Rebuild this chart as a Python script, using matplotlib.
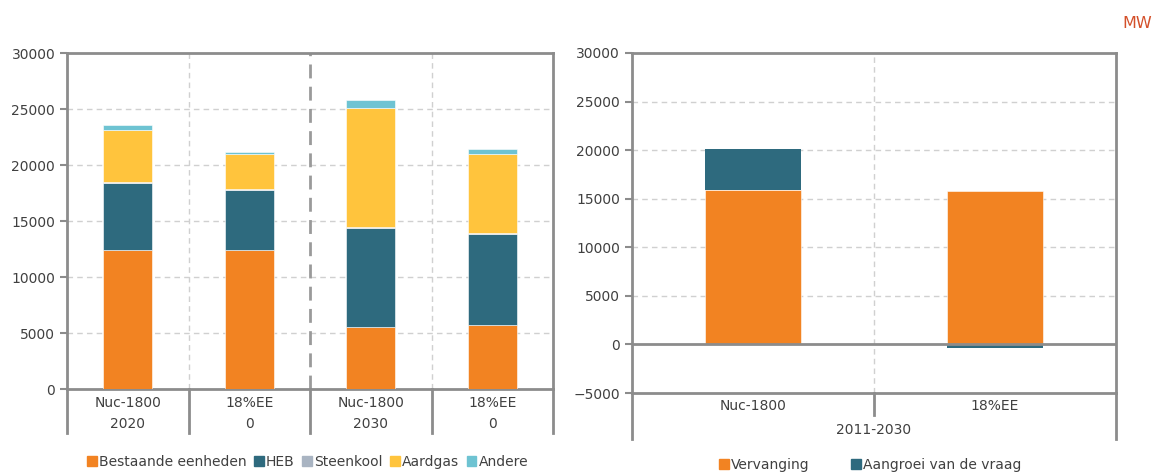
import matplotlib
matplotlib.use("Agg")
import matplotlib.pyplot as plt
from matplotlib.patches import Patch
import matplotlib.transforms as mtransforms

# ---------------- data ----------------
left_scen = ["Nuc-1800", "18%EE", "Nuc-1800", "18%EE"]
left_year = ["2020", "0", "2030", "0"]
bestaande = [12380, 12380, 5530, 5740]
heb = [6050, 5390, 8880, 8140]
steenkool = [80, 60, 60, 50]
aardgas = [4640, 3150, 10630, 7050]
andere = [450, 220, 700, 450]

right_scen = ["Nuc-1800", "18%EE"]
right_period = "2011-2030"
vervanging = [15870, 15770]
aangroei = [4260, -340]

left_series = ["Bestaande eenheden", "HEB", "Steenkool", "Aardgas", "Andere"]
right_series = ["Vervanging", "Aangroei van de vraag"]

C_OR = "#F28322"
C_HEB = "#2E6A7E"
C_ST = "#A9B4C2"
C_GAS = "#FFC43D"
C_AND = "#6EC3D2"
TXT = "#404040"
SP = "#8C8C8C"
GR = "#D0D0D0"

FS = 10
plt.rcParams["font.family"] = ["DejaVu Sans"]
plt.rcParams["font.size"] = FS

fig = plt.figure(figsize=(11.56, 4.75), dpi=100)

# ---------------- left chart ----------------
axL = fig.add_axes([0.058, 0.181, 0.4204, 0.7074])
xs = list(range(len(left_scen)))
w = 0.40
bottom = [0] * len(xs)
for vals, col in [(bestaande, C_OR), (heb, C_HEB), (steenkool, C_ST), (aardgas, C_GAS), (andere, C_AND)]:
    axL.bar(xs, vals, w, bottom=bottom, color=col, edgecolor="white", linewidth=0.4, zorder=3)
    bottom = [b + v for b, v in zip(bottom, vals)]
axL.set_xlim(-0.5, 3.5)
axL.set_ylim(0, 30000)
axL.set_yticks(range(0, 30001, 5000))
axL.set_xticks([])
for y in range(5000, 30000, 5000):
    axL.axhline(y, color=GR, lw=1, ls=(0, (4, 3)), zorder=1)
for xv in [0.5, 2.5]:
    axL.axvline(xv, color=GR, lw=1, ls=(0, (4, 3)), zorder=1)
axL.axvline(1.5, color="#9A9A9A", lw=2, ls=(0, (5, 3)), zorder=1)
for s in axL.spines.values():
    s.set_color(SP)
    s.set_linewidth(2)
axL.tick_params(axis="y", colors=SP, labelcolor=TXT, length=5, width=1.5, labelsize=FS)

transL = mtransforms.blended_transform_factory(axL.transData, axL.transAxes)
for xb in [-0.5, 0.5, 1.5, 2.5, 3.5]:
    axL.plot([xb, xb], [0, -0.13], transform=transL, color=SP, lw=2, clip_on=False)
for i, (s, yr) in enumerate(zip(left_scen, left_year)):
    axL.text(i, -0.043, s, transform=transL, ha="center", va="center", color=TXT, fontsize=FS)
    axL.text(i, -0.103, yr, transform=transL, ha="center", va="center", color=TXT, fontsize=FS)

hL = [Patch(color=c) for c in [C_OR, C_HEB, C_ST, C_GAS, C_AND]]
fig.legend(hL, left_series, loc="center", bbox_to_anchor=(0.266, 0.027), ncol=5, frameon=False,
           handlelength=0.7, handleheight=0.7, handletextpad=0.15, columnspacing=0.55,
           fontsize=FS, labelcolor=TXT)

# ---------------- right chart ----------------
axR = fig.add_axes([0.5467, 0.1726, 0.4187, 0.716])
xr = list(range(len(right_scen)))
axR.bar(xr, vervanging, w, color=C_OR, edgecolor="white", linewidth=0.4, zorder=3)
pos_bottom = [v if a >= 0 else 0 for v, a in zip(vervanging, aangroei)]
axR.bar(xr, aangroei, w, bottom=pos_bottom, color=C_HEB, edgecolor="none", zorder=3)
axR.set_xlim(-0.5, 1.5)
axR.set_ylim(-5000, 30000)
axR.set_yticks(range(-5000, 30001, 5000))
axR.set_xticks([])
for y in range(5000, 30000, 5000):
    axR.axhline(y, color=GR, lw=1, ls=(0, (4, 3)), zorder=1)
axR.axvline(0.5, color=GR, lw=1, ls=(0, (4, 3)), zorder=1)
axR.axhline(0, color=SP, lw=2, zorder=4)
for s in axR.spines.values():
    s.set_color(SP)
    s.set_linewidth(2)
axR.tick_params(axis="y", colors=SP, labelcolor=TXT, length=5, width=1.5, labelsize=FS)

transR = mtransforms.blended_transform_factory(axR.transData, axR.transAxes)
for xb in [-0.5, 1.5]:
    axR.plot([xb, xb], [0, -0.135], transform=transR, color=SP, lw=2, clip_on=False)
axR.plot([0.5, 0.5], [0, -0.065], transform=transR, color=SP, lw=2, clip_on=False)
for i, s in enumerate(right_scen):
    axR.text(i, -0.037, s, transform=transR, ha="center", va="center", color=TXT, fontsize=FS)
axR.text(0.5, -0.108, right_period, transform=transR, ha="center", va="center", color=TXT, fontsize=FS)

hR = [Patch(color=c) for c in [C_OR, C_HEB]]
fig.legend(hR, right_series, loc="center", bbox_to_anchor=(0.753, 0.021), ncol=2, frameon=False,
           handlelength=0.7, handleheight=0.7, handletextpad=0.15, columnspacing=3.0,
           fontsize=FS, labelcolor=TXT)

fig.text(0.9965, 0.951, "MW", ha="right", va="center", color="#D4502A", fontsize=11.5)

fig.savefig("out.png", dpi=100, facecolor="white")
